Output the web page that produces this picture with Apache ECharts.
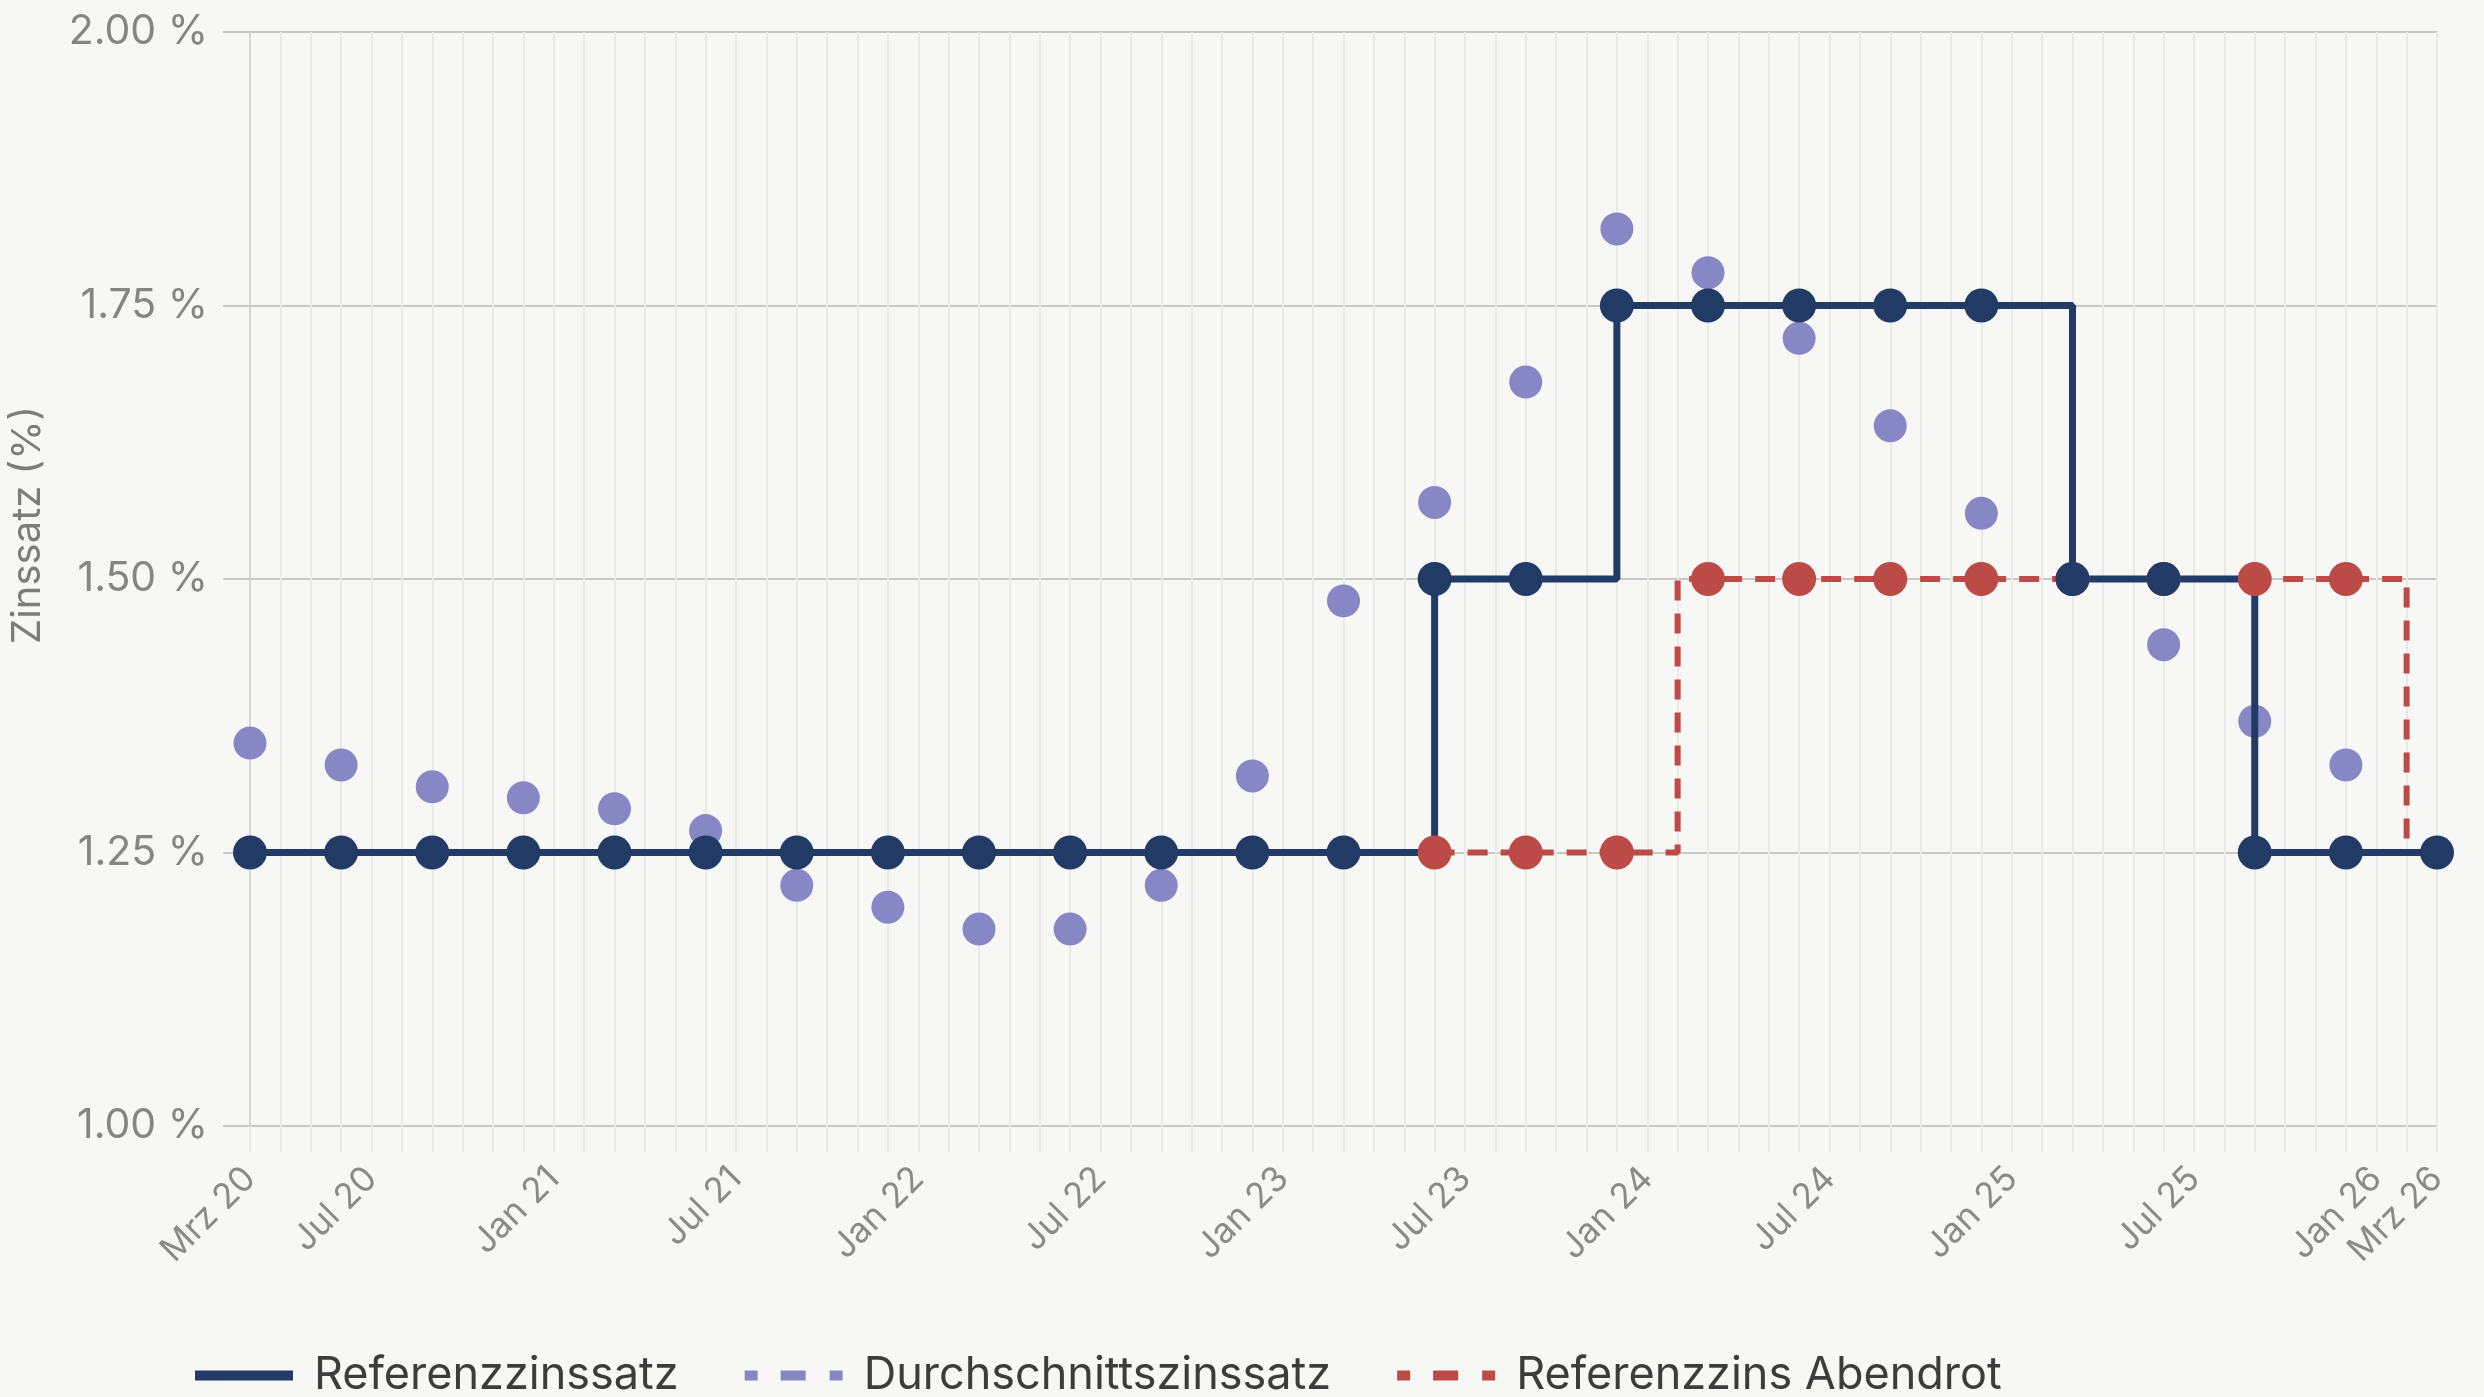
<!DOCTYPE html>
<html>
<head>
<meta charset="utf-8">
<script src="https://cdn.jsdelivr.net/npm/echarts@6/dist/echarts.min.js"></script>
<style>
  html, body { margin: 0; padding: 0; background: #f7f7f5; }
  #chart { width: 2484px; height: 1397px; }
</style>
</head>
<body>
<div id="chart"></div>
<script>
// ---- Data ----
const monthNames = ['Jan','Feb','Mrz','Apr','Mai','Jun','Jul','Aug','Sep','Okt','Nov','Dez'];
const startYear = 2020, startMonth = 2, monthCount = 73; // Mrz 20 .. Mrz 26
const months = [];
for (let i = 0; i < monthCount; i++) {
  const m = (startMonth + i) % 12;
  const y = startYear + Math.floor((startMonth + i) / 12);
  months.push(monthNames[m] + ' ' + String(y).slice(2));
}
const tickLabels = ['Mrz 20','Jul 20','Jan 21','Jul 21','Jan 22','Jul 22','Jan 23','Jul 23','Jan 24','Jul 24','Jan 25','Jul 25','Jan 26','Mrz 26'];

const quarterDates = ['Mrz 20','Jun 20','Sep 20','Dez 20','Mrz 21','Jun 21','Sep 21','Dez 21','Mrz 22','Jun 22','Sep 22','Dez 22','Mrz 23','Jun 23','Sep 23','Dez 23','Mrz 24','Jun 24','Sep 24','Dez 24','Mrz 25','Jun 25','Sep 25','Dez 25','Mrz 26'];
const referenzzinssatz = [1.25,1.25,1.25,1.25,1.25,1.25,1.25,1.25,1.25,1.25,1.25,1.25,1.25,1.50,1.50,1.75,1.75,1.75,1.75,1.75,1.50,1.50,1.25,1.25,1.25];

const durchschnittDates = ['Mrz 20','Jun 20','Sep 20','Dez 20','Mrz 21','Jun 21','Sep 21','Dez 21','Mrz 22','Jun 22','Sep 22','Dez 22','Mrz 23','Jun 23','Sep 23','Dez 23','Mrz 24','Jun 24','Sep 24','Dez 24','Mrz 25','Jun 25','Sep 25','Dez 25'];
const durchschnittszinssatz = [1.35,1.33,1.31,1.30,1.29,1.27,1.22,1.20,1.18,1.18,1.22,1.32,1.48,1.57,1.68,1.82,1.78,1.72,1.64,1.56,1.50,1.44,1.37,1.33];

const abendrotDates = ['Jun 23','Sep 23','Dez 23','Feb 24','Mrz 24','Jun 24','Sep 24','Dez 24','Mrz 25','Jun 25','Sep 25','Dez 25','Feb 26'];
const abendrotValues = [1.25,1.25,1.25,1.50,1.50,1.50,1.50,1.50,1.50,1.50,1.50,1.50,1.25];

const seriesNames = ['Referenzzinssatz','Durchschnittszinssatz','Referenzzins Abendrot'];

// ---- Chart ----
const FONT = 'Inter, "Noto Sans", sans-serif';
const pair = (dates, vals) => dates.map((d, i) => [d, vals[i]]);
const dashIcon = 'path://M0,0h13v10h-13z M36,0h25v10h-25z M85,0h13v10h-13z';

const chart = echarts.init(document.getElementById('chart'));
chart.setOption({
  animation: false,
  backgroundColor: '#f7f7f5',
  textStyle: { fontFamily: FONT },
  grid: { left: 247, right: 47, top: 32, bottom: 271 },
  legend: {
    left: 190, top: 1348,
    itemWidth: 98, itemHeight: 10, itemGap: 66,
    itemStyle: { borderWidth: 0 },
    textStyle: { fontFamily: FONT, fontSize: 45, color: '#3c3c3c', padding: [0, 0, 0, 16] },
    data: [
      { name: seriesNames[0], icon: 'rect' },
      { name: seriesNames[1], icon: dashIcon },
      { name: seriesNames[2], icon: dashIcon }
    ]
  },
  xAxis: {
    type: 'category',
    boundaryGap: false,
    data: months,
    axisLine: { show: false },
    axisTick: { show: true, interval: 0, length: 26, lineStyle: { color: '#e9e9e7', width: 2 } },
    splitLine: { show: true, interval: 0, lineStyle: { color: '#e9e9e7', width: 2 } },
    axisLabel: {
      interval: (idx, val) => tickLabels.indexOf(val) >= 0,
      rotate: 45, margin: 47,
      fontFamily: FONT, fontSize: 35, color: '#8a8a8a',
      hideOverlap: false
    }
  },
  yAxis: {
    type: 'value',
    min: 1, max: 2, interval: 0.25,
    name: 'Zinssatz (%)',
    nameLocation: 'middle', nameRotate: 90, nameGap: 202,
    nameTextStyle: { fontFamily: FONT, fontSize: 40, color: '#7c7c7c', padding: [0, 0, 0, 108] },
    axisLine: { show: true, lineStyle: { color: '#d6d6d4', width: 2 } },
    axisTick: { show: true, length: 27, lineStyle: { color: '#c8c8c6', width: 2 } },
    splitLine: { show: true, lineStyle: { color: '#c8c8c6', width: 2 } },
    axisLabel: {
      margin: 42,
      fontFamily: FONT, fontSize: 41, color: '#858585',
      formatter: v => v.toFixed(2) + ' %'
    }
  },
  series: [
    {
      name: seriesNames[1], type: 'scatter',
      data: pair(durchschnittDates, durchschnittszinssatz),
      symbolSize: 33,
      itemStyle: { color: '#8787c6', opacity: 1 }
    },
    {
      name: seriesNames[2], type: 'line', step: 'end',
      data: pair(abendrotDates, abendrotValues),
      symbol: 'circle', showAllSymbol: true,
      symbolSize: (v, p) => quarterDates.indexOf(abendrotDates[p.dataIndex]) >= 0 ? 34 : 0,
      itemStyle: { color: '#bc4a47' },
      lineStyle: { color: '#bc4a47', width: 6, type: [20, 13] }
    },
    {
      name: seriesNames[0], type: 'line', step: 'end',
      data: pair(quarterDates, referenzzinssatz),
      symbol: 'circle', showAllSymbol: true, symbolSize: 34,
      itemStyle: { color: '#223a66' },
      lineStyle: { color: '#223a66', width: 7 }
    }
  ]
});
</script>
</body>
</html>
